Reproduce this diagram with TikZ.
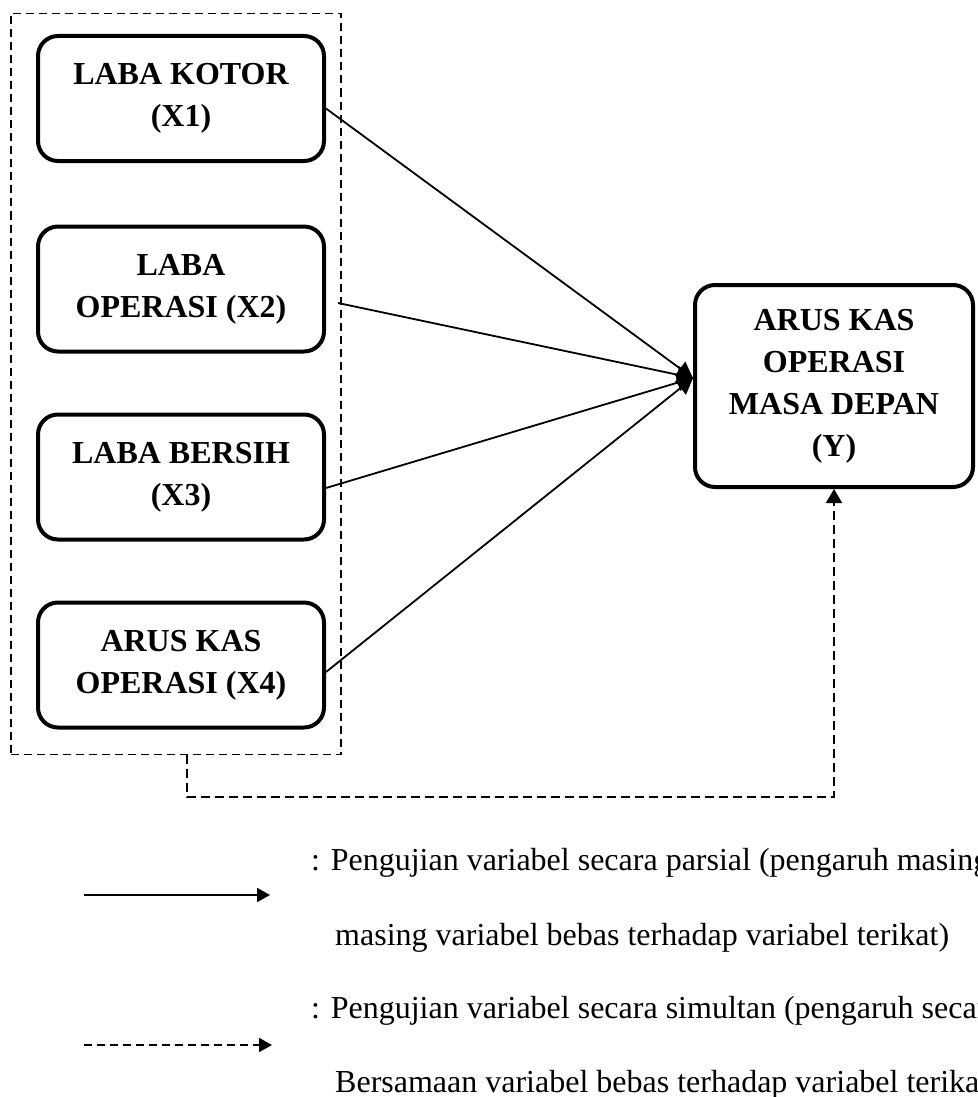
\documentclass[tikz,border=0pt]{standalone}
\usepackage{fontspec}
\setmainfont{Liberation Serif}
\usetikzlibrary{arrows.meta}
\begin{document}
\begin{tikzpicture}[x=1pt,y=-1pt,
  varbox/.style={draw,line width=4pt,rounded corners=20pt,minimum width=286pt,minimum height=125pt,
    align=center,inner sep=0pt,font=\fontsize{32}{42}\selectfont\bfseries},
  grpbox/.style={draw,line width=1.6pt,dash pattern=on 8pt off 5pt,minimum width=330pt,minimum height=741pt,inner sep=0pt},
  conn/.style={line width=1.8pt,-{Triangle[length=16pt,width=17pt]}},
  dconn/.style={line width=1.8pt,dash pattern=on 9pt off 5pt,-{Triangle[length=14pt,width=16pt]}},
  legtext/.style={anchor=base west,inner sep=0pt,font=\fontsize{32}{42}\selectfont}
]
\useasboundingbox (0,0) rectangle (977,1097);
\fill[white] (0,0) rectangle (977,1097);

\node[grpbox] (grp) at (176,384) {};
\node[varbox] (x1) at (181,98.5) {LABA KOTOR\\(X1)};
\node[varbox] (x2) at (181,289) {LABA\\OPERASI (X2)};
\node[varbox] (x3) at (181,477) {LABA BERSIH\\(X3)};
\node[varbox] (x4) at (181,665) {ARUS KAS\\OPERASI (X4)};
\node[varbox,minimum width=278pt,minimum height=202pt] (y) at (834,386) {ARUS KAS\\OPERASI\\MASA DEPAN\\(Y)};

\coordinate (tip) at ([yshift=8pt]y.west);
\draw[conn] ([yshift=-10pt]x1.east) -- (tip);
\draw[conn] ([xshift=12pt,yshift=-14pt]x2.east) -- (tip);
\draw[conn] ([yshift=-11pt]x3.east) -- (tip);
\draw[conn] ([yshift=-7pt]x4.east) -- (tip);

\draw[dconn] ([xshift=11pt]grp.south) -- ++(0,42) -| (y.south);

% legend
\coordinate (la1) at (84,895);
\coordinate (lb1) at (270,895);
\draw[line width=1.8pt,-{Triangle[length=13pt,width=14pt]}] (la1) -- (lb1);
\coordinate (la2) at (84,1045);
\coordinate (lb2) at (272,1045);
\draw[line width=1.8pt,dash pattern=on 8pt off 5pt,-{Triangle[length=13pt,width=14pt]}] (la2) -- (lb2);

\begin{scope}
\clip (0,0) rectangle (977,1097);
\node[legtext] (t1) at (311,870) {: Pengujian variabel secara parsial (pengaruh masing-};
\node[legtext] (t2) at (335,945) {masing variabel bebas terhadap variabel terikat)};
\node[legtext] (t3) at (311,1018) {: Pengujian variabel secara simultan (pengaruh secara};
\node[legtext] (t4) at (335,1092) {Bersamaan variabel bebas terhadap variabel terikat)};
\end{scope}
\end{tikzpicture}
\end{document}
